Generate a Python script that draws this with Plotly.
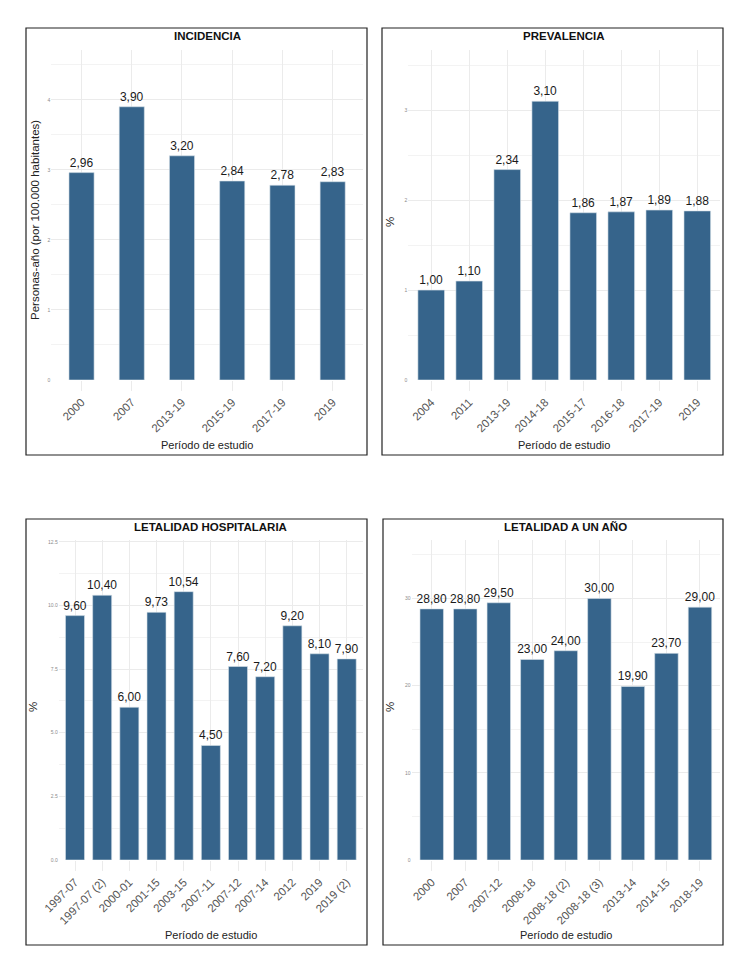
import plotly.graph_objects as go

# la pagina tiene 8px de margen en el body: la figura se reduce y todo se corre 8px
OFF = 8
W, H = 750 - OFF, 974 - 2 * OFF
BAR_COLOR = "#36648B"
GRID = "#ebebeb"

# datos
inc_periodos = ["2000", "2007", "2013-19", "2015-19", "2017-19", "2019"]
inc_valores = [2.96, 3.90, 3.20, 2.84, 2.78, 2.83]

prev_periodos = ["2004", "2011", "2013-19", "2014-18", "2015-17", "2016-18", "2017-19", "2019"]
prev_valores = [1.00, 1.10, 2.34, 3.10, 1.86, 1.87, 1.89, 1.88]

leth_periodos = ["1997-07", "1997-07 (2)", "2000-01", "2001-15", "2003-15", "2007-11",
                 "2007-12", "2007-14", "2012", "2019", "2019 (2)"]
leth_valores = [9.60, 10.40, 6.00, 9.73, 10.54, 4.50, 7.60, 7.20, 9.20, 8.10, 7.90]

le1a_periodos = ["2000", "2007", "2007-12", "2008-18", "2008-18 (2)", "2008-18 (3)",
                 "2013-14", "2014-15", "2018-19"]
le1a_valores = [28.80, 28.80, 29.50, 23.00, 24.00, 30.00, 19.90, 23.70, 29.00]


def px_x(v):
    return (v - OFF) / W


def px_y(v):
    return 1 - (v - OFF) / H


def coma(v):
    return f"{v:.2f}".replace(".", ",")


# (titulo, categorias, valores, ancho barra, dominio x px, dominio y px, tope y, dtick, formato,
#  y-titulo, caja, pos y-titulo, y del x-titulo, y del titulo)
paneles = [
    ("INCIDENCIA", inc_periodos, inc_valores, 0.5, (51.4, 362.8), (50, 380), 4.71, 1, "d",
     "Personas-año (por 100.000 habitantes)", (26, 367, 28, 455), (35, 220), 445, 36),
    ("PREVALENCIA", prev_periodos, prev_valores, 0.7, (408.4, 720.1), (50, 380), 3.67, 1, "d",
     "%", (382, 723, 28, 455), (390, 222), 445, 36),
    ("LETALIDAD HOSPITALARIA", leth_periodos, leth_valores, 0.7, (58.7, 363), (540, 860), 12.57, 2.5, ".1f",
     "%", (26, 367, 519, 945), (33, 707), 935, 527),
    ("LETALIDAD A UN AÑO", le1a_periodos, le1a_valores, 0.7, (411.6, 720.1), (540, 860), 36.7, 10, "d",
     "%", (383, 723, 519, 945), (390, 707), 935, 527),
]

fig = go.Figure()
layout = dict(
    template="none",
    width=W, height=H,
    margin=dict(l=0, r=0, t=0, b=0, pad=0),
    paper_bgcolor="white", plot_bgcolor="white",
    showlegend=False,
    font=dict(family="Liberation Sans, Arial, sans-serif", color="#1a1a1a"),
    annotations=[], shapes=[],
)

for i, (titulo, cats, vals, ancho, dx, dy, ymax, dtick, fmt, ytit, caja, ypos, xtit_y, tit_y) in enumerate(paneles, 1):
    sfx = "" if i == 1 else str(i)
    fig.add_trace(go.Bar(
        x=cats, y=vals, width=ancho,
        marker=dict(color=BAR_COLOR, line=dict(color="#d9e2ea", width=0.6)),
        text=[coma(v) for v in vals], textposition="outside",
        textfont=dict(size=12, color="#1a1a1a"),
        constraintext="none", cliponaxis=False,
        xaxis="x" + sfx, yaxis="y" + sfx,
    ))
    layout["xaxis" + sfx] = dict(
        domain=[px_x(dx[0]), px_x(dx[1])], anchor="y" + sfx,
        type="category", range=[-0.6, len(cats) - 0.4], automargin=False,
        showgrid=True, gridcolor=GRID, gridwidth=1,
        tickangle=-45, tickfont=dict(size=11.5, color="#555555"),
        ticks="outside", ticklen=10, tickcolor="#ebebeb", tickwidth=1,
        showline=False, zeroline=False, fixedrange=True,
    )
    layout["yaxis" + sfx] = dict(
        domain=[px_y(dy[1]), px_y(dy[0])], anchor="x" + sfx,
        range=[0, ymax], dtick=dtick, tick0=0, tickformat=fmt, automargin=False,
        showgrid=True, gridcolor=GRID, gridwidth=1,
        minor=dict(dtick=dtick / 2, showgrid=True, gridcolor="#f3f3f3", gridwidth=1),
        tickfont=dict(size=5, color="#8c8c8c"), ticks="",
        zeroline=False, showline=False, fixedrange=True,
    )
    cx = px_x((dx[0] + dx[1]) / 2)
    comun = dict(xref="paper", yref="paper", showarrow=False, xanchor="center", yanchor="middle")
    layout["annotations"] += [
        dict(text=f"<b>{titulo}</b>", x=cx, y=px_y(tit_y), font=dict(size=11.5, color="#111"), **comun),
        dict(text="Período de estudio", x=cx, y=px_y(xtit_y), font=dict(size=11, color="#222"), **comun),
        dict(text=ytit, x=px_x(ypos[0]), y=px_y(ypos[1]), textangle=-90,
             font=dict(size=11.5, color="#222"), **comun),
    ]
    layout["shapes"].append(dict(
        type="rect", xref="paper", yref="paper",
        x0=px_x(caja[0]), x1=px_x(caja[1]), y0=px_y(caja[3]), y1=px_y(caja[2]),
        line=dict(color="#222", width=1.2), fillcolor="rgba(0,0,0,0)",
    ))

fig.update_layout(**layout)
fig.write_html("out.html")
